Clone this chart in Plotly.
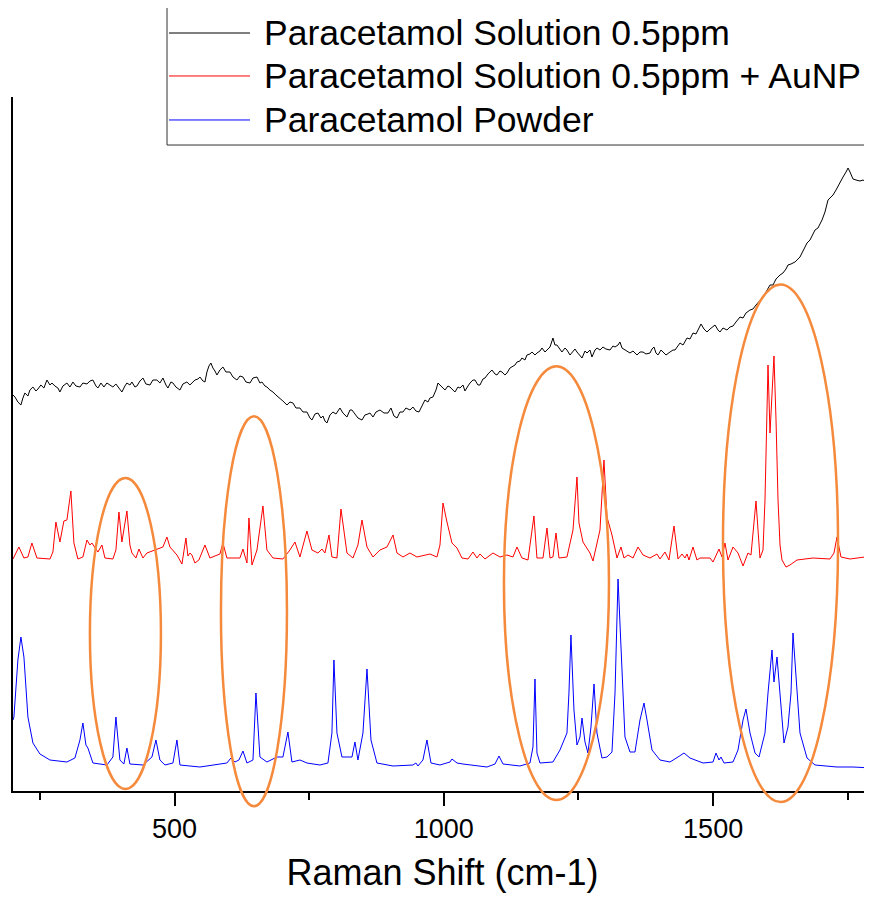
import plotly.graph_objects as go

# ---------------- data (Raman shift in cm-1, intensity in a.u.) ----------------
series_names = [
    "Paracetamol Solution 0.5ppm",
    "Paracetamol Solution 0.5ppm + AuNP",
    "Paracetamol Powder",
]
series_colors = ["#000000", "#ff0000", "#0000ff"]

solution_x = [200, 203.6, 209.1, 214.7, 218.4, 222.1, 227.7, 231.4, 237.0, 242.6, 246.3, 251.8, 257.4, 263.0, 268.6,
              272.3, 277.8, 283.4, 287.1, 292.7, 300.1, 305.7, 311.3, 316.8, 324.3, 329.8, 337.3, 342.8, 348.4, 354.0,
              357.7, 363.3, 368.8, 374.4, 380.0, 385.5, 391.1, 396.7, 402.2, 407.8, 411.5, 417.1, 420.8, 426.4, 430.1,
              435.7, 441.3, 446.8, 454.3, 459.8, 467.2, 472.8, 478.4, 484.0, 487.7, 493.2, 497.0, 502.5, 510.0, 515.5,
              522.9, 528.5, 532.2, 537.8, 543.4, 547.1, 552.7, 556.4, 560.1, 563.8, 567.5, 571.2, 575.0, 578.7, 584.2,
              589.8, 595.4, 602.8, 608.4, 615.8, 621.4, 627.0, 632.5, 640.0, 645.5, 653.0, 658.5, 662.2, 667.8, 671.5,
              677.1, 682.7, 688.2, 695.7, 701.2, 708.7, 714.2, 719.8, 725.4, 732.8, 738.4, 745.8, 751.4, 755.1, 760.7,
              766.2, 771.8, 775.5, 779.2, 782.9, 788.5, 794.1, 799.7, 807.1, 812.6, 820.1, 825.7, 829.4, 834.9, 840.5,
              848.0, 853.5, 859.1, 862.8, 868.4, 874.0, 881.4, 888.8, 896.2, 901.8, 907.4, 913.0, 918.5, 924.1, 929.6,
              937.1, 942.6, 948.2, 953.8, 959.3, 964.9, 970.5, 974.2, 979.8, 985.4, 989.1, 992.8, 998.4, 1002.1, 1007.6,
              1011.4, 1016.9, 1020.6, 1026.2, 1029.9, 1035.5, 1039.2, 1044.8, 1048.5, 1054.1, 1057.8, 1063.3, 1067.1,
              1072.6, 1076.4, 1081.9, 1085.6, 1089.3, 1095.0, 1098.6, 1104.2, 1107.9, 1113.5, 1117.2, 1122.8, 1126.5,
              1132.1, 1135.8, 1141.3, 1145.0, 1150.6, 1154.3, 1159.9, 1163.6, 1169.2, 1172.9, 1178.5, 1182.2, 1187.8,
              1191.5, 1197.1, 1202.6, 1206.3, 1210.0, 1215.6, 1219.3, 1224.9, 1228.6, 1234.2, 1237.9, 1243.5, 1247.2,
              1252.8, 1256.5, 1262.1, 1265.8, 1271.3, 1275.0, 1280.6, 1284.3, 1289.9, 1295.5, 1301.0, 1308.5, 1314.0,
              1317.8, 1323.4, 1327.0, 1330.8, 1336.3, 1341.9, 1345.6, 1351.2, 1358.6, 1364.2, 1369.8, 1375.3, 1382.8,
              1386.5, 1390.2, 1393.9, 1397.6, 1403.2, 1406.9, 1412.5, 1419.9, 1425.5, 1429.2, 1434.8, 1438.5, 1444.1,
              1451.5, 1457.0, 1462.6, 1468.2, 1473.7, 1477.5, 1483.0, 1488.6, 1494.2, 1499.8, 1503.5, 1509.0, 1512.7,
              1518.3, 1525.7, 1531.3, 1536.9, 1542.4, 1549.9, 1555.5, 1561.0, 1568.5, 1574.0, 1579.6, 1587.0, 1592.6,
              1598.2, 1605.6, 1611.2, 1616.8, 1624.2, 1629.7, 1635.3, 1639.0, 1644.6, 1652.0, 1661.3, 1666.9, 1674.3,
              1679.9, 1685.5, 1689.2, 1694.7, 1702.2, 1707.7, 1713.3, 1718.9, 1722.6, 1728.2, 1735.6, 1741.2, 1746.8,
              1750.5, 1754.2, 1759.7, 1765.3, 1772.7, 1778.3, 1783.9, 1789.4, 1795.0]
solution_y = [396, 394, 389, 386, 393, 398, 395, 401, 404, 400, 402, 406, 403, 411, 406,
              408, 405, 403, 399, 405, 408, 404, 409, 405, 404, 408, 407, 410, 411, 405,
              403, 408, 404, 408, 406, 404, 407, 403, 399, 405, 408, 406, 409, 404, 405,
              410, 413, 407, 406, 411, 411, 408, 413, 406, 403, 409, 408, 404, 401, 407,
              409, 406, 408, 411, 412, 414, 410, 409, 419, 425, 428, 423, 420, 416, 421,
              424, 419, 419, 414, 411, 415, 414, 409, 408, 413, 414, 408, 409, 405, 404,
              401, 399, 396, 393, 390, 386, 389, 388, 383, 383, 379, 379, 373, 371, 377,
              378, 373, 375, 370, 368, 376, 379, 377, 383, 378, 374, 381, 381, 377, 373,
              371, 376, 377, 378, 374, 379, 381, 378, 378, 383, 375, 373, 379, 379, 383,
              381, 384, 380, 379, 385, 391, 389, 393, 394, 401, 408, 406, 404, 401, 405,
              404, 401, 399, 404, 403, 406, 400, 405, 408, 411, 411, 406, 406,
              412, 413, 417, 419, 421, 417, 416, 420, 419, 416, 418, 423, 424,
              426, 429, 430, 433, 431, 436, 437, 439, 436, 438, 440, 443, 439,
              441, 444, 453, 446, 446, 441, 439, 443, 441, 436, 438, 442, 439,
              435, 433, 440, 438, 441, 434, 441, 443, 441, 444, 442, 441, 445,
              444, 446, 449, 443, 441, 439, 438, 440, 436, 439, 439, 437, 438,
              442, 444, 438, 436, 441, 439, 436, 439, 441, 441, 445, 448, 446,
              453, 452, 458, 457, 463, 467, 462, 459, 462, 465, 466, 461, 459,
              463, 461, 464, 465, 469, 474, 473, 478, 481, 482, 486, 491, 494,
              499, 506, 506, 512, 516, 518, 522, 526, 527, 529, 534, 540, 548,
              551, 557, 561, 563, 571, 579, 591, 594, 596, 601, 609, 614, 619,
              623, 619, 612, 611, 610, 611, 609, 610, 609]

aunp_x = [200, 211.0, 220.3, 227.7, 235.1, 244.4, 268.6, 274.1, 279.7, 287.1, 294.5, 300.1, 307.5, 313.1, 320.5,
          329.8, 337.3, 342.8, 346.5, 357.7, 365.1, 370.7, 385.5, 391.1, 396.7, 402.2, 411.5, 417.1, 420.8, 428.3,
          433.8, 441.3, 448.7, 463.5, 478.4, 485.8, 491.4, 504.4, 513.7, 521.1, 524.8, 528.5, 532.2, 537.8, 545.2,
          556.4, 565.7, 584.2, 589.8, 597.2, 621.4, 627.0, 634.4, 638.1, 643.7, 653.0, 664.1, 671.5, 682.7, 701.2,
          714.2, 723.5, 732.8, 745.8, 755.1, 766.2, 773.7, 779.2, 786.7, 792.2, 801.5, 809.0, 820.1, 831.2, 840.5,
          848.0, 857.3, 868.4, 881.4, 894.4, 905.6, 913.0, 924.1, 937.1, 950.1, 974.2, 987.2, 992.8, 998.4, 1005.8,
          1015.1, 1024.4, 1033.6, 1044.8, 1054.1, 1061.5, 1067.1, 1076.4, 1091.2, 1104.2, 1117.2, 1128.3, 1135.8,
          1145.0, 1156.2, 1167.3, 1172.9, 1184.1, 1191.5, 1197.1, 1202.6, 1208.2, 1213.8, 1228.6, 1239.8, 1247.2,
          1250.9, 1258.3, 1271.3, 1276.9, 1289.9, 1297.3, 1302.9, 1312.2, 1321.5, 1328.9, 1334.5, 1341.9, 1351.2,
          1360.5, 1369.8, 1382.8, 1395.8, 1401.3, 1410.6, 1418.0, 1427.3, 1434.8, 1442.2, 1447.7, 1451.5, 1455.2,
          1462.6, 1470.0, 1475.6, 1494.2, 1499.8, 1510.9, 1516.5, 1522.0, 1527.6, 1536.9, 1546.2, 1555.5, 1564.7,
          1570.3, 1579.6, 1587.0, 1592.6, 1596.3, 1601.9, 1605.6, 1613.0, 1616.8, 1620.5, 1624.2, 1627.9, 1635.3,
          1642.7, 1655.7, 1685.5, 1717.0, 1724.4, 1730.0, 1737.4, 1754.2, 1795.0]
aunp_y = [232, 244, 233, 234, 248, 233, 232, 239, 269, 249, 270, 271, 300, 248, 232,
          234, 251, 246, 248, 239, 246, 233, 232, 241, 279, 249, 280, 246, 238, 233,
          242, 233, 238, 241, 244, 254, 244, 236, 227, 253, 235, 238, 236, 228, 231,
          246, 233, 237, 248, 233, 233, 242, 228, 273, 226, 241, 285, 241, 233, 232,
          241, 249, 234, 260, 241, 238, 242, 238, 256, 234, 233, 282, 238, 233, 246,
          271, 244, 234, 241, 244, 256, 238, 234, 238, 234, 237, 234, 246, 288, 269,
          248, 243, 233, 232, 239, 233, 237, 232, 238, 234, 236, 234, 244,
          233, 231, 275, 233, 233, 263, 233, 234, 258, 233, 234, 261, 314,
          268, 249, 238, 230, 261, 331, 274, 256, 233, 244, 233, 236, 233,
          244, 236, 233, 237, 232, 239, 231, 265, 232, 237, 233, 237, 231,
          244, 231, 233, 233, 229, 242, 234, 248, 231, 244, 238, 225, 238,
          236, 290, 233, 241, 291, 426, 358, 435, 371, 291, 246, 231, 224,
          226, 231, 233, 232, 238, 254, 234, 232, 235]

powder_x = [200, 201.7, 209.1, 214.7, 220.3, 227.7, 237.0, 250.0, 268.6, 300.1, 315.0, 324.3, 329.8, 335.4, 339.1,
            348.4, 374.4, 385.5, 391.1, 398.5, 405.9, 411.5, 417.1, 441.3, 458.0, 465.4, 472.8, 482.1, 497.0, 504.4,
            510.0, 547.1, 597.2, 604.7, 612.1, 619.5, 627.0, 634.4, 645.6, 651.1, 658.5, 671.5, 690.1, 701.2, 710.5,
            717.9, 732.8, 745.8, 769.9, 784.8, 792.2, 795.9, 801.5, 810.8, 829.4, 834.9, 840.5, 849.8, 857.3, 864.7,
            875.8, 905.6, 942.6, 948.2, 951.9, 961.2, 968.6, 976.1, 992.8, 1011.4, 1015.1, 1024.4, 1035.5, 1048.5,
            1080.1, 1095.0, 1102.4, 1109.8, 1141.3, 1159.9, 1165.5, 1169.2, 1172.9, 1178.5, 1202.6, 1215.6, 1224.9,
            1228.6, 1232.3, 1236.0, 1241.6, 1247.2, 1252.8, 1256.5, 1262.1, 1267.6, 1273.2, 1278.8, 1284.3, 1293.6,
            1302.9, 1312.2, 1317.8, 1323.4, 1330.8, 1336.3, 1345.6, 1354.9, 1364.2, 1371.6, 1377.2, 1386.5, 1401.3,
            1419.9, 1434.8, 1445.9, 1457.0, 1481.2, 1499.8, 1505.3, 1510.9, 1514.6, 1520.2, 1536.9, 1546.2, 1555.5,
            1561.0, 1568.5, 1577.8, 1585.2, 1596.3, 1601.9, 1609.3, 1613.0, 1618.6, 1624.2, 1631.6, 1639.0, 1644.6,
            1648.3, 1653.9, 1661.3, 1674.3, 1689.2, 1730.0, 1759.7, 1795.0]
powder_y = [71, 74, 131, 154, 134, 74, 48, 37, 31, 29, 33, 51, 68, 46, 43,
            28, 26, 34, 74, 31, 27, 43, 27, 26, 34, 51, 31, 26, 28, 51,
            26, 24, 28, 33, 29, 31, 40, 28, 31, 98, 34, 29, 34, 34, 59,
            29, 31, 28, 26, 28, 58, 131, 58, 34, 34, 49, 31, 58, 122, 51,
            28, 25, 26, 28, 25, 31, 51, 28, 26, 29, 32, 28, 27, 26,
            24, 27, 35, 27, 25, 28, 44, 112, 38, 28, 29, 41, 53,
            58, 98, 156, 81, 46, 54, 73, 49, 38, 64, 107, 58, 33,
            34, 39, 98, 212, 121, 54, 39, 39, 71, 88, 71, 41, 31,
            29, 34, 38, 33, 28, 29, 38, 31, 34, 28, 29, 41, 71,
            82, 58, 38, 34, 58, 98, 141, 109, 134, 98, 48, 64, 98,
            158, 114, 58, 33, 26, 24, 24, 23]

x_ticks = [500, 1000, 1500]
x_minor_ticks = [250, 750, 1250, 1750]
x_range = [200, 1795]
y_range = [0, 694]

# highlighted regions (Raman shift limits of each ellipse)
highlight_x0 = [342.8, 586.1, 1111.6, 1518.3]
highlight_x1 = [474.7, 708.7, 1306.6, 1731.9]
highlight_y0 = [0.003, -0.022, -0.013, -0.016]   # paper fraction
highlight_y1 = [0.451, 0.540, 0.612, 0.730]

FONT = "Liberation Sans, Arial, sans-serif"

fig = go.Figure()
for xs, ys, name, col in zip([solution_x, aunp_x, powder_x], [solution_y, aunp_y, powder_y],
                             series_names, series_colors):
    fig.add_trace(go.Scatter(x=xs, y=ys, mode="lines", name=name, showlegend=False,
                             line=dict(color=col, width=1)))

for a, b, c, d in zip(highlight_x0, highlight_x1, highlight_y0, highlight_y1):
    fig.add_shape(type="circle", xref="x", yref="paper", x0=a, x1=b, y0=c, y1=d,
                  line=dict(color="#f58a3c", width=2.5), layer="above")

# legend box (drawn by hand to match the reference layout)
fig.add_shape(type="rect", xref="paper", yref="paper", x0=0.1793, x1=1.02, y0=0.9308, y1=1.1369,
              line=dict(color="#333333", width=1), fillcolor="rgba(255,255,255,0)", layer="above")
legend_rows = [1.0922, 1.0303, 0.9669]
for name, col, yy in zip(series_names, series_colors, legend_rows):
    fig.add_shape(type="line", xref="paper", yref="paper", x0=0.1816, x1=0.2759, y0=yy, y1=yy,
                  line=dict(color=col, width=1))
    fig.add_annotation(xref="paper", yref="paper", x=0.2895, y=yy, text=name, showarrow=False,
                       xanchor="left", yanchor="middle", font=dict(family=FONT, size=35.5, color="black"))

# the page adds an 8px body margin, so the figure is made smaller and shifted accordingly
fig.update_layout(
    width=864, height=885,
    margin=dict(l=5, r=0, t=89, b=102),
    paper_bgcolor="white", plot_bgcolor="white",
    font=dict(family=FONT, color="black"),
    showlegend=False,
)
fig.update_xaxes(range=x_range, showgrid=False, zeroline=False, showline=True, linecolor="black", linewidth=2,
                 ticks="outside", ticklen=13, tickwidth=2, tickcolor="black",
                 tickvals=x_ticks, ticktext=[str(v) for v in x_ticks],
                 tickfont=dict(family=FONT, size=27, color="black"),
                 minor=dict(tickvals=x_minor_ticks, ticks="outside", ticklen=7, tickwidth=2, tickcolor="black"),
                 title=dict(text="Raman Shift (cm-1)", font=dict(family=FONT, size=36, color="black"), standoff=20))
fig.update_yaxes(range=y_range, showgrid=False, zeroline=False, showline=True, linecolor="black", linewidth=2,
                 ticks="", showticklabels=False)

fig.write_html("out.html")
